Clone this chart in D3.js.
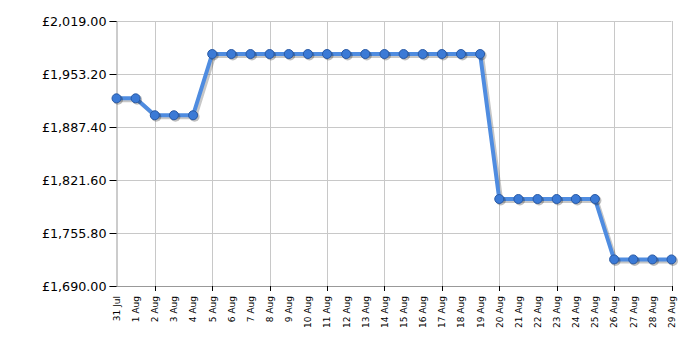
<!DOCTYPE html>
<html><head><meta charset="utf-8">
<script src="https://cdn.jsdelivr.net/npm/d3@7"></script>
<style>body{margin:0;background:#fff}svg{display:block}</style>
</head><body>
<svg id="c" width="700" height="350"></svg>
<script>
const dates = ["31 Jul","1 Aug","2 Aug","3 Aug","4 Aug","5 Aug","6 Aug","7 Aug","8 Aug","9 Aug","10 Aug","11 Aug","12 Aug","13 Aug","14 Aug","15 Aug","16 Aug","17 Aug","18 Aug","19 Aug","20 Aug","21 Aug","22 Aug","23 Aug","24 Aug","25 Aug","26 Aug","27 Aug","28 Aug","29 Aug"];
const prices = [1923,1923,1902,1902,1902,1978,1978,1978,1978,1978,1978,1978,1978,1978,1978,1978,1978,1978,1978,1978,1798,1798,1798,1798,1798,1798,1723,1723,1723,1723];
const yTicks = [1690,1755.8,1821.6,1887.4,1953.2,2019];
const gridDates = ["2 Aug","5 Aug","8 Aug","11 Aug","14 Aug","17 Aug","20 Aug","23 Aug","26 Aug","29 Aug"];

const svg = d3.select("#c");
const L=116.5, R=671.5, T=21, B=286;
const x = d3.scalePoint().domain(dates).range([L,R]);
const y = d3.scaleLinear().domain([1690,2019]).range([B,T]);
const fmt = v => "£" + d3.format(",.2f")(v);

svg.append("g").selectAll("line").data(yTicks).join("line")
  .attr("x1",L).attr("x2",R).attr("y1",d=>Math.round(y(d))+0.5).attr("y2",d=>Math.round(y(d))+0.5)
  .attr("stroke","#c8c8c8").attr("stroke-width",1);
svg.append("g").selectAll("line").data(gridDates).join("line")
  .attr("x1",d=>Math.round(x(d))+0.5).attr("x2",d=>Math.round(x(d))+0.5).attr("y1",T).attr("y2",B)
  .attr("stroke","#c8c8c8").attr("stroke-width",1);

const ya = svg.append("g").attr("transform",`translate(${L},0)`)
  .call(d3.axisLeft(y).tickValues(yTicks).tickFormat(fmt).tickSize(7).tickPadding(3));
ya.select(".domain").attr("stroke","#999");
ya.selectAll(".tick line").attr("stroke","#000");
ya.selectAll("text").attr("font-family","Verdana, 'DejaVu Sans', sans-serif").attr("font-size","12.7px").attr("fill","#000");

const xa = svg.append("g").attr("transform",`translate(0,${B})`)
  .call(d3.axisBottom(x).tickValues(dates).tickSize(0));
xa.select(".domain").attr("stroke","#999");
xa.selectAll(".tick line").remove();
xa.selectAll(".tick text")
  .attr("font-family","Verdana, 'DejaVu Sans', sans-serif").attr("font-size","9px").attr("fill","#000")
  .attr("transform","rotate(-90)").attr("text-anchor","end").attr("dx","-10").attr("dy","0.32em").attr("y",0).attr("x",0);
svg.append("g").selectAll("line").data(gridDates).join("line")
  .attr("x1",d=>Math.round(x(d))+0.5).attr("x2",d=>Math.round(x(d))+0.5).attr("y1",B).attr("y2",B+5)
  .attr("stroke","#000");

const line = d3.line().x((d,i)=>x(dates[i])).y(d=>y(d));
svg.append("path").datum(prices).attr("d",line).attr("fill","none")
  .attr("stroke","#000").attr("stroke-opacity",0.22).attr("stroke-width",4).attr("transform","translate(2,2)")
  .attr("stroke-linejoin","round");
svg.append("path").datum(prices).attr("d",line).attr("fill","none")
  .attr("stroke","#4f8ce0").attr("stroke-width",4).attr("stroke-linejoin","round");
svg.append("g").selectAll("circle").data(prices).join("circle")
  .attr("cx",(d,i)=>x(dates[i])+1.5).attr("cy",d=>y(d)+1.5).attr("r",5)
  .attr("fill","#000").attr("fill-opacity",0.25);
svg.append("g").selectAll("circle").data(prices).join("circle")
  .attr("cx",(d,i)=>x(dates[i])).attr("cy",d=>y(d)).attr("r",4.5)
  .attr("fill","#3b7ad6").attr("stroke","#2a5aa5").attr("stroke-width",1);
</script>
</body></html>
